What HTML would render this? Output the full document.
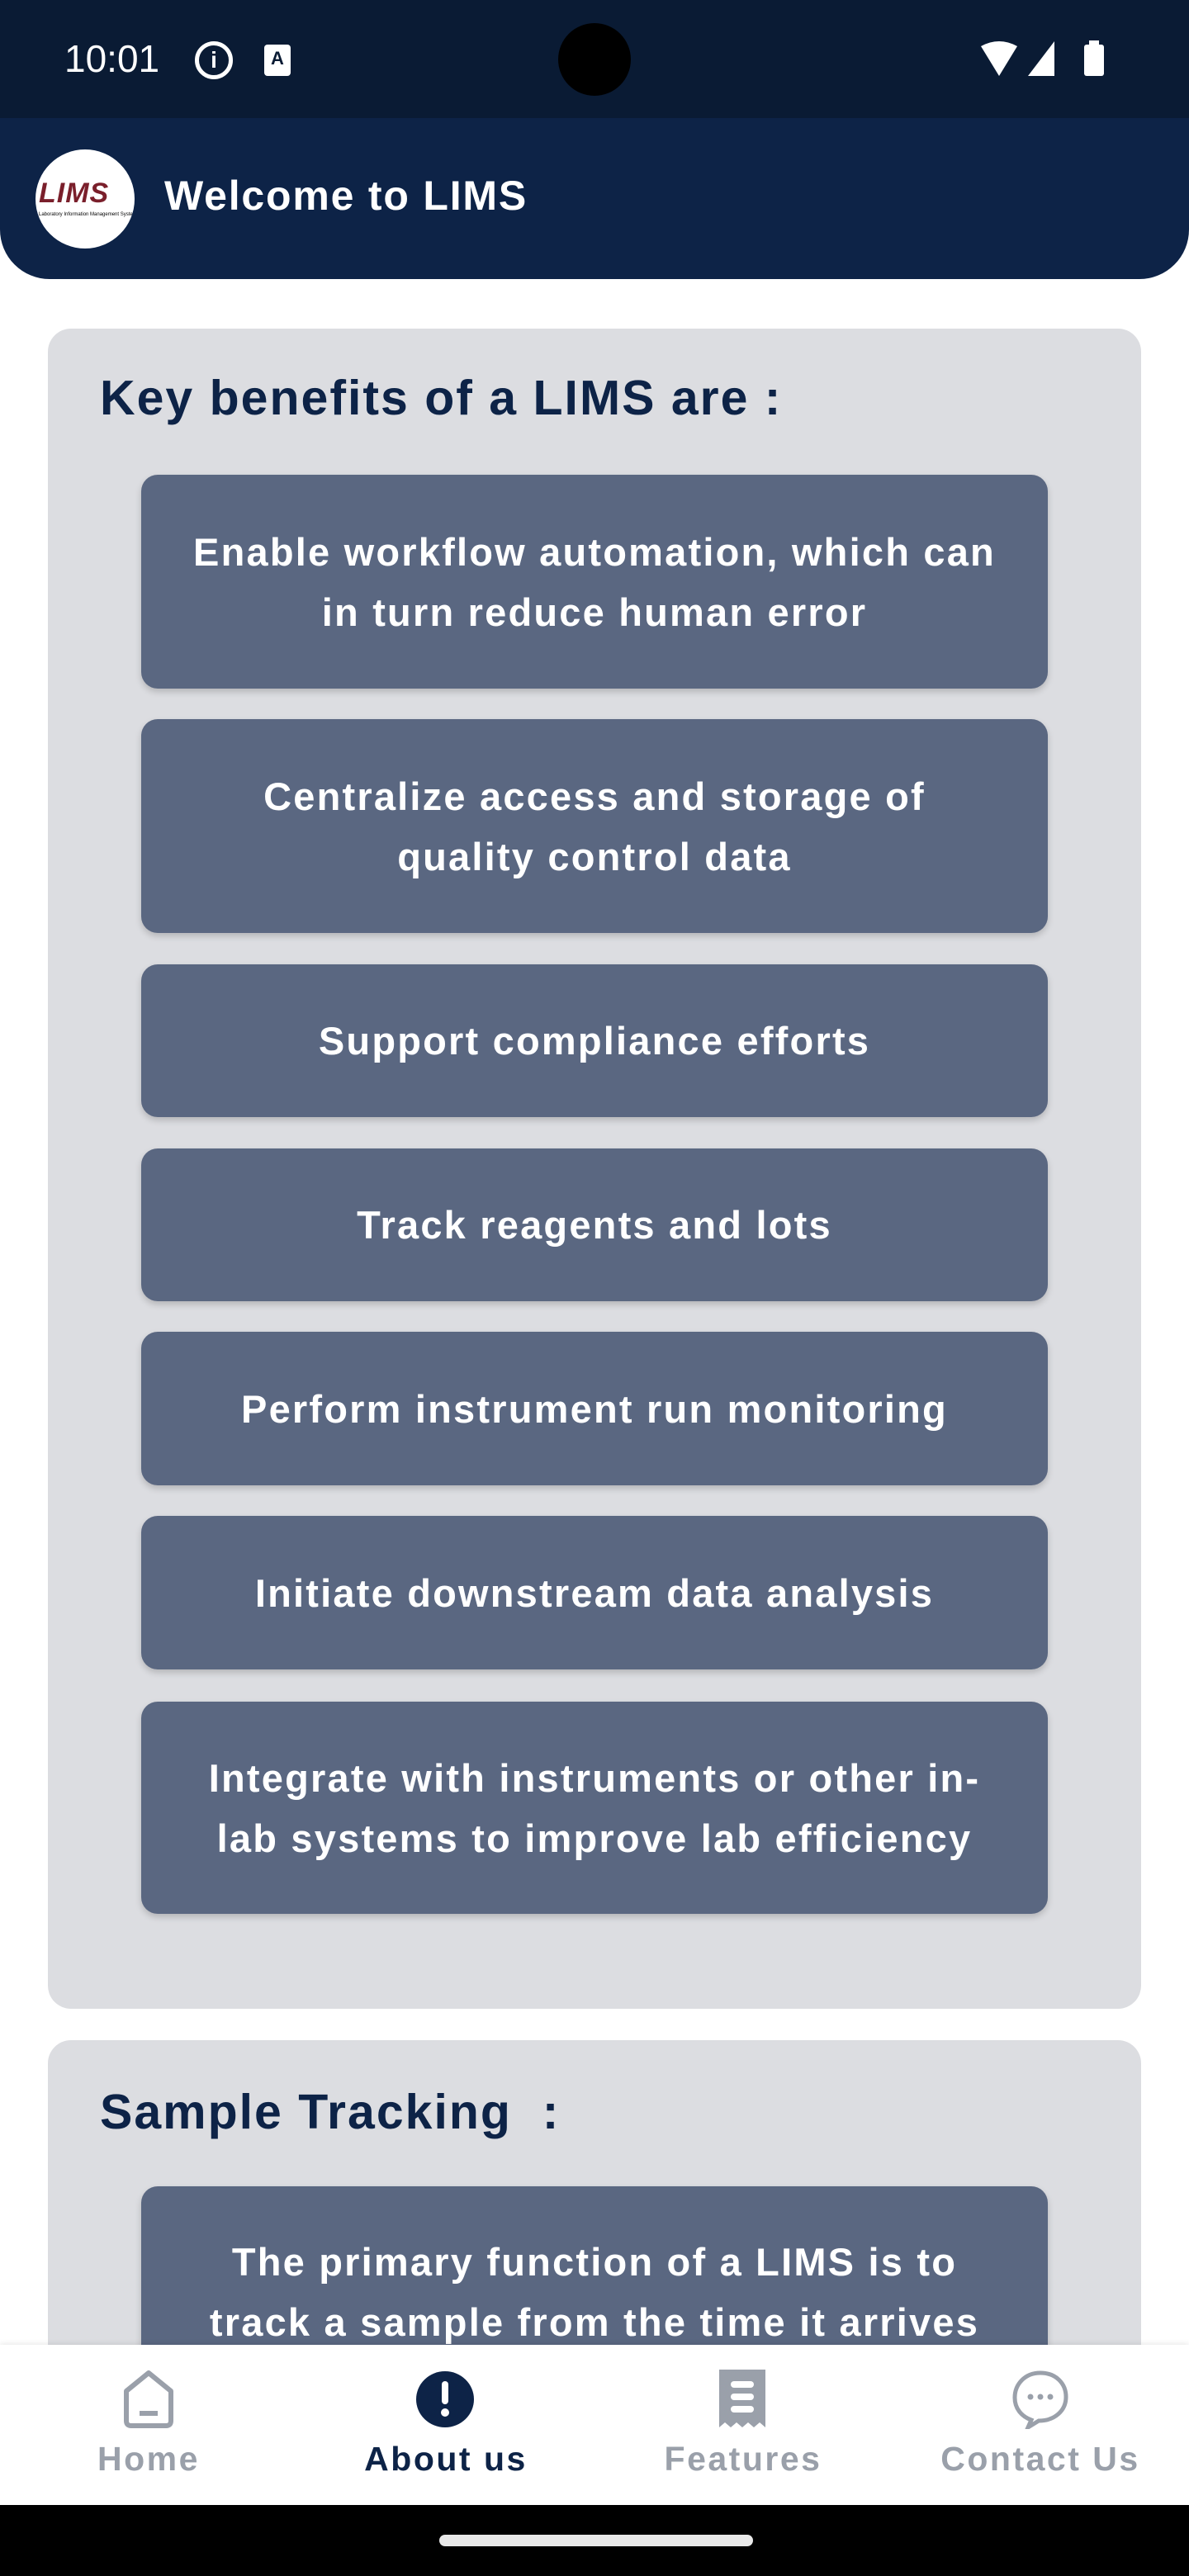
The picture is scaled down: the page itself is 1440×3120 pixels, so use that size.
<!DOCTYPE html>
<html><head><meta charset="utf-8"><style>
*{margin:0;padding:0;box-sizing:border-box}
body{width:1440px;height:3120px;position:relative;background:#fff;font-family:"Liberation Sans",sans-serif;overflow:hidden}
.abs{position:absolute}
.status{left:0;top:0;width:1440px;height:150px;background:#0a1b34}
.appbar{left:0;top:143px;width:1440px;height:195px;background:#0d2347;border-radius:0 0 60px 60px}
.card{left:58px;width:1324px;background:#dcdde1;border-radius:28px}
.h{left:121px;font-weight:bold;font-size:59px;letter-spacing:2px;color:#0d2347}
.box{left:171px;width:1098px;background:#5a6781;border-radius:20px;color:#fff;font-weight:bold;font-size:47px;letter-spacing:2.2px;line-height:73px;text-align:center;display:flex;align-items:center;justify-content:center;box-shadow:0 4px 8px rgba(0,0,0,.18);padding:0 10px;white-space:nowrap}
.nav{left:0;top:2840px;width:1440px;height:194px;background:#fff;box-shadow:0 -2px 6px rgba(0,0,0,.08)}
.lbl{top:2955px;width:360px;text-align:center;font-weight:bold;font-size:41px;letter-spacing:2.5px;color:#9aa0aa}
</style></head><body>
<div class="abs status"></div>
<div class="abs" style="left:78px;top:44px;color:#fff;font-size:46px">10:01</div>
<div class="abs" style="left:236px;top:50px;width:46px;height:46px;border:5px solid #fff;border-radius:50%;color:#fff;font-size:28px;font-weight:bold;text-align:center;line-height:36px">i</div>
<div class="abs" style="left:320px;top:54px;width:32px;height:38px;background:#fff;border-radius:4px;color:#0a1b34;font-size:22px;font-weight:bold;text-align:center;line-height:34px">A</div>
<div class="abs" style="left:676px;top:28px;width:88px;height:88px;background:#000;border-radius:50%"></div>
<svg class="abs" style="left:1185px;top:48px" width="170" height="50"><path d="M3 8 Q25 -4 47 8 L25 44 Z" fill="#fff"/><path d="M60 44 L92 2 L92 44 Z" fill="#fff"/><rect x="128" y="6" width="24" height="38" rx="3" fill="#fff"/><rect x="134" y="1" width="12" height="6" fill="#fff"/></svg>
<div class="abs appbar"></div>
<div class="abs" style="left:43px;top:181px;width:120px;height:120px;background:#fff;border-radius:50%;overflow:hidden">
<div style="position:absolute;left:4px;top:34px;font-weight:bold;font-style:italic;font-size:34px;color:#7a1f2b;letter-spacing:1px">LIMS</div>
<div style="position:absolute;left:4px;top:76px;font-size:6px;color:#000;white-space:nowrap">Laboratory Information Management System</div></div>
<div class="abs" style="left:199px;top:208px;color:#fff;font-weight:bold;font-size:50px;letter-spacing:1.8px">Welcome to LIMS</div>

<div class="abs card" style="top:398px;height:2035px"></div>
<div class="abs h" style="top:448px">Key benefits of a LIMS are :</div>
<div class="abs box" style="top:575px;height:259px">Enable workflow automation, which can<br>in turn reduce human error</div>
<div class="abs box" style="top:871px;height:259px">Centralize access and storage of<br>quality control data</div>
<div class="abs box" style="top:1168px;height:185px">Support compliance efforts</div>
<div class="abs box" style="top:1391px;height:185px">Track reagents and lots</div>
<div class="abs box" style="top:1613px;height:186px">Perform instrument run monitoring</div>
<div class="abs box" style="top:1836px;height:186px">Initiate downstream data analysis</div>
<div class="abs box" style="top:2061px;height:257px">Integrate with instruments or other in-<br>lab systems to improve lab efficiency</div>

<div class="abs card" style="top:2471px;height:500px"></div>
<div class="abs h" style="top:2524px">Sample Tracking&nbsp; :</div>
<div class="abs box" style="top:2648px;height:330px;align-items:flex-start;padding-top:55px">The primary function of a LIMS is to<br>track a sample from the time it arrives</div>

<div class="abs nav"></div>
<svg class="abs" style="left:145px;top:2868px" width="70" height="76"><path d="M35 6 L62 28 V64 Q62 70 56 70 H14 Q8 70 8 64 V28 Z" fill="none" stroke="#9aa0aa" stroke-width="6" stroke-linejoin="round"/><rect x="24" y="52" width="22" height="6" fill="#9aa0aa"/></svg>
<svg class="abs" style="left:503px;top:2868px" width="72" height="76"><ellipse cx="36" cy="38" rx="35" ry="34" fill="#0d2347"/><rect x="32" y="16" width="8" height="28" rx="4" fill="#fff"/><circle cx="36" cy="54" r="5" fill="#fff"/></svg>
<svg class="abs" style="left:869px;top:2868px" width="60" height="76"><path d="M2 2 H58 V72 L51 66 L44 72 L37 66 L30 72 L23 66 L16 72 L9 66 L2 72 Z" fill="#9aa0aa"/><rect x="16" y="16" width="28" height="8" rx="4" fill="#fff"/><rect x="16" y="31" width="28" height="8" rx="4" fill="#fff"/><rect x="16" y="46" width="28" height="8" rx="4" fill="#fff"/></svg>
<svg class="abs" style="left:1225px;top:2870px" width="70" height="72"><path d="M35 4 C16 4 4 18 4 34 C4 48 13 57 24 61 L20 70 L33 62 C52 62 66 50 66 33 C66 17 54 4 35 4 Z" fill="none" stroke="#9aa0aa" stroke-width="5"/><circle cx="23" cy="33" r="3.5" fill="#9aa0aa"/><circle cx="35" cy="33" r="3.5" fill="#9aa0aa"/><circle cx="47" cy="33" r="3.5" fill="#9aa0aa"/></svg>
<div class="abs lbl" style="left:0">Home</div>
<div class="abs lbl" style="left:360px;color:#0d2347">About us</div>
<div class="abs lbl" style="left:720px">Features</div>
<div class="abs lbl" style="left:1080px">Contact Us</div>
<div class="abs" style="left:0;top:3034px;width:1440px;height:86px;background:#000"></div>
<div class="abs" style="left:532px;top:3070px;width:380px;height:14px;background:#e8e8e8;border-radius:7px"></div>
</body></html>
